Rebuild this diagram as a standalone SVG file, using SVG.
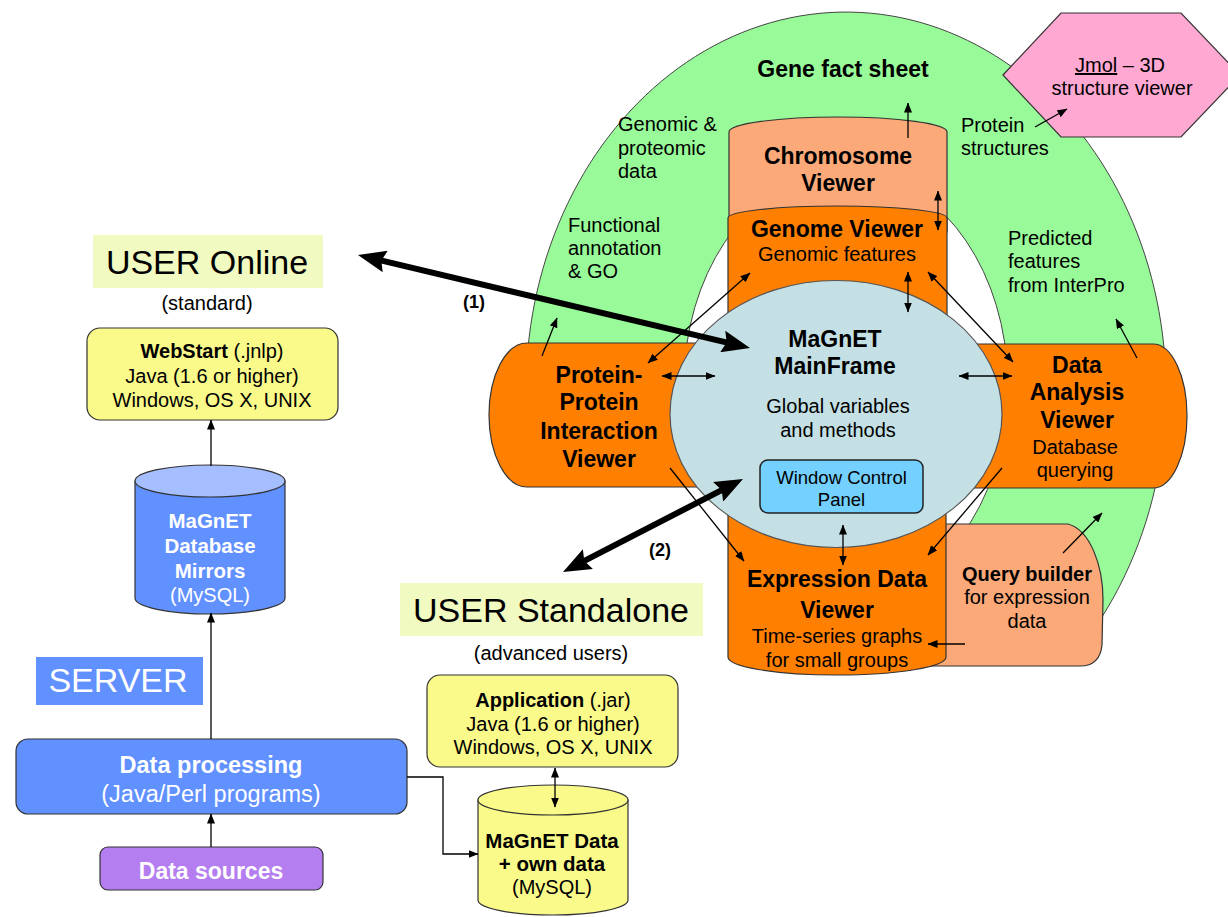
<svg xmlns="http://www.w3.org/2000/svg" width="1228" height="917" viewBox="0 0 1228 917">
<defs>
<marker id="ah" markerUnits="userSpaceOnUse" markerWidth="10" markerHeight="8" viewBox="0 0 10 8" refX="9.5" refY="4" orient="auto-start-reverse"><path d="M0,0 L10,4 L0,8 z" fill="#000"/></marker>
<marker id="bh" markerUnits="userSpaceOnUse" markerWidth="28" markerHeight="22" viewBox="0 0 28 22" refX="10" refY="11" orient="auto-start-reverse"><path d="M0,0 L28,11 L0,22 L4,11 z" fill="#000"/></marker>
</defs>
<style>
text{font-family:"Liberation Sans",Arial,sans-serif;fill:#000}
.b{font-weight:bold;font-size:23px;text-anchor:middle}
.bs{font-weight:bold;font-size:20.5px;text-anchor:middle}
.n{font-size:20px;text-anchor:middle}
.l{font-size:20px}
.w{fill:#fff}
.big{font-size:34px;text-anchor:middle}
.lbl{font-weight:bold;font-size:18px;text-anchor:middle}
.thin{stroke:#000;stroke-width:1.3;fill:none}
.thick{stroke:#000;stroke-width:6;fill:none}
.sh{stroke:#333;stroke-width:1.2}
.lo{fill:#FBA978}
.or{fill:#FF7F00}
.yb{fill:#FAFA8A}
.ub{fill:#F1FAC0}
.bl{fill:#6190FF}
</style>
<rect x="0" y="0" width="1228" height="917" fill="#fff"/>

<g id="gene-fact-sheet">
<path d="M527,420 A320,378 0 1 1 1070,660 L940,560 A162,215 0 1 0 686,420 Z" fill="#98FA98" stroke="#444" stroke-width="1"/>
<text class="b" x="843" y="77">Gene fact sheet</text>
<text class="l" x="618" y="131">Genomic &amp;</text>
<text class="l" x="618" y="155">proteomic</text>
<text class="l" x="618" y="178">data</text>
<text class="l" x="568" y="232">Functional</text>
<text class="l" x="568" y="255">annotation</text>
<text class="l" x="568" y="278">&amp; GO</text>
<text class="l" x="961" y="132">Protein</text>
<text class="l" x="961" y="155">structures</text>
<text class="l" x="1008" y="245">Predicted</text>
<text class="l" x="1008" y="268">features</text>
<text class="l" x="1008" y="292">from InterPro</text>
</g>

<g id="jmol">
<polygon points="1003,75 1061,13 1181,13 1240,75 1181,137 1061,137" fill="#FFA8D2" class="sh"/>
<text class="n" x="1120" y="72"><tspan text-decoration="underline">Jmol</tspan> – 3D</text>
<text class="n" x="1122" y="95">structure viewer</text>
</g>

<g id="chromosome-viewer">
<path d="M729,132 A109,15 0 0 1 947,132 L947,232 L729,232 Z" class="lo sh"/>
<text class="b" x="838" y="164">Chromosome</text>
<text class="b" x="838" y="191">Viewer</text>
</g>

<g id="genome-viewer">
<path d="M728,218 A109.5,12 0 0 1 947,218 L947,380 L728,380 Z" class="or sh"/>
<text class="b" x="837" y="237">Genome Viewer</text>
<text class="n" x="837" y="261">Genomic features</text>
</g>

<g id="ppi-viewer">
<path d="M527,343 L712,343 L712,487 L527,487 A38,72 0 0 1 527,343 Z" class="or sh"/>
<text class="b" x="599" y="383">Protein-</text>
<text class="b" x="599" y="410">Protein</text>
<text class="b" x="599" y="439">Interaction</text>
<text class="b" x="599" y="467">Viewer</text>
</g>

<g id="data-analysis-viewer">
<path d="M965,344 L1153,344 A34,72 0 0 1 1153,488 L965,488 Z" class="or sh"/>
<text class="b" x="1077" y="373">Data</text>
<text class="b" x="1077" y="400">Analysis</text>
<text class="b" x="1077" y="428">Viewer</text>
<text class="n" x="1075" y="454">Database</text>
<text class="n" x="1075" y="477">querying</text>
</g>

<g id="query-builder">
<path d="M930,524 L1068,524 C1090,530 1103,565 1103,600 L1102,645 Q1100,666 1080,666 L930,666 Z" class="lo sh"/>
<text class="bs" x="1027" y="581" style="font-size:20px">Query builder</text>
<text class="n" x="1027" y="604">for expression</text>
<text class="n" x="1027" y="628">data</text>
</g>

<g id="expression-viewer">
<path d="M728,480 L946,480 L946,657 A109,18 0 0 1 728,657 Z" class="or sh"/>
<text class="b" x="837" y="587">Expression Data</text>
<text class="b" x="837" y="618">Viewer</text>
<text class="n" x="837" y="643">Time-series graphs</text>
<text class="n" x="837" y="667">for small groups</text>
</g>

<g id="mainframe">
<ellipse cx="836" cy="414" rx="166" ry="133.5" fill="#C4E0E5" stroke="#555" stroke-width="1.2"/>
<text class="b" x="835" y="347">MaGnET</text>
<text class="b" x="835" y="374">MainFrame</text>
<text class="n" x="838" y="413">Global variables</text>
<text class="n" x="838" y="437">and methods</text>
</g>

<g id="window-control-panel">
<rect x="760" y="460" width="163" height="53" rx="8" fill="#74D0FF" stroke="#222" stroke-width="1.5"/>
<text class="n" x="841.5" y="484" style="font-size:18.5px">Window Control</text>
<text class="n" x="841.5" y="506" style="font-size:18.5px">Panel</text>
</g>

<g id="user-online">
<rect x="93" y="235" width="230" height="53" class="ub"/>
<text class="big" x="207" y="274">USER Online</text>
<text class="n" x="207" y="310">(standard)</text>
</g>

<g id="webstart">
<rect x="87" y="328" width="251" height="92" rx="13" class="yb sh"/>
<text class="n" x="212" y="358"><tspan font-weight="bold">WebStart</tspan> (.jnlp)</text>
<text class="n" x="212" y="383">Java (1.6 or higher)</text>
<text class="n" x="212" y="407">Windows, OS X, UNIX</text>
</g>

<g id="database-mirrors">
<path d="M135,481 L135,598 A75,16 0 0 0 285,598 L285,481 Z" class="bl sh"/>
<ellipse cx="210" cy="481" rx="75" ry="16" fill="#A5BEFF" class="sh"/>
<text class="bs w" x="210" y="528">MaGnET</text>
<text class="bs w" x="210" y="553">Database</text>
<text class="bs w" x="210" y="578">Mirrors</text>
<text class="n w" x="210" y="602">(MySQL)</text>
</g>

<g id="server">
<rect x="36" y="657" width="167" height="48" class="bl"/>
<text class="big w" x="118" y="692">SERVER</text>
</g>

<g id="data-processing">
<rect x="16" y="739" width="391" height="75" rx="12" class="bl sh"/>
<text class="b w" x="211" y="773" style="font-size:23.5px">Data processing</text>
<text class="n w" x="211" y="802" style="font-size:23.5px">(Java/Perl programs)</text>
</g>

<g id="data-sources">
<rect x="100" y="847" width="223" height="43" rx="8" fill="#B47EF0" class="sh"/>
<text class="b w" x="211" y="879">Data sources</text>
</g>

<g id="user-standalone">
<rect x="400" y="583" width="303" height="53" class="ub"/>
<text class="big" x="551" y="622">USER Standalone</text>
<text class="n" x="551" y="660">(advanced users)</text>
</g>

<g id="application">
<rect x="427" y="675" width="251" height="92" rx="13" class="yb sh"/>
<text class="n" x="553" y="707"><tspan font-weight="bold">Application</tspan> (.jar)</text>
<text class="n" x="553" y="731">Java (1.6 or higher)</text>
<text class="n" x="553" y="754">Windows, OS X, UNIX</text>
</g>

<g id="magnet-data">
<path d="M478,800 L478,900 A75,15 0 0 0 628,900 L628,800 Z" class="yb sh"/>
<ellipse cx="553" cy="800" rx="75" ry="15" class="yb sh"/>
<text class="bs" x="552" y="848">MaGnET Data</text>
<text class="bs" x="552" y="871">+ own data</text>
<text class="n" x="552" y="894">(MySQL)</text>
</g>

<g id="connectors">
<line class="thin" x1="908" y1="138" x2="908" y2="103" marker-end="url(#ah)"/>
<line class="thin" x1="938" y1="191" x2="938" y2="230" marker-start="url(#ah)" marker-end="url(#ah)"/>
<line class="thin" x1="1035" y1="127" x2="1067" y2="109" marker-end="url(#ah)"/>
<line class="thin" x1="908" y1="272" x2="908" y2="312" marker-start="url(#ah)" marker-end="url(#ah)"/>
<line class="thin" x1="648" y1="363" x2="750" y2="273" marker-start="url(#ah)" marker-end="url(#ah)"/>
<line class="thin" x1="928" y1="272" x2="1013" y2="362" marker-start="url(#ah)" marker-end="url(#ah)"/>
<line class="thin" x1="662" y1="376" x2="715" y2="376" marker-start="url(#ah)" marker-end="url(#ah)"/>
<line class="thin" x1="959" y1="376" x2="1012" y2="376" marker-start="url(#ah)" marker-end="url(#ah)"/>
<line class="thin" x1="542" y1="356" x2="557" y2="318" marker-end="url(#ah)"/>
<line class="thin" x1="1137" y1="358" x2="1116" y2="319" marker-end="url(#ah)"/>
<line class="thin" x1="670" y1="468" x2="744" y2="561" marker-end="url(#ah)"/>
<line class="thin" x1="1002" y1="468" x2="928" y2="555" marker-end="url(#ah)"/>
<line class="thin" x1="843" y1="525" x2="843" y2="565" marker-start="url(#ah)" marker-end="url(#ah)"/>
<line class="thin" x1="1063" y1="553" x2="1102" y2="513" marker-end="url(#ah)"/>
<line class="thin" x1="965" y1="644" x2="928" y2="644" marker-end="url(#ah)"/>
<line class="thin" x1="211" y1="466" x2="211" y2="420" marker-end="url(#ah)"/>
<line class="thin" x1="211" y1="739" x2="211" y2="613" marker-end="url(#ah)"/>
<line class="thin" x1="211" y1="847" x2="211" y2="814" marker-end="url(#ah)"/>
<polyline class="thin" points="407,777 443,777 443,854 478,854" marker-end="url(#ah)"/>
<line class="thin" x1="555" y1="768" x2="555" y2="807" marker-start="url(#ah)" marker-end="url(#ah)"/>
<line class="thick" x1="375.5" y1="259.2" x2="732.5" y2="343.8" marker-start="url(#bh)" marker-end="url(#bh)"/>
<line class="thick" x1="579" y1="563.7" x2="727" y2="487.3" marker-start="url(#bh)" marker-end="url(#bh)"/>
<text class="lbl" x="474" y="308">(1)</text>
<text class="lbl" x="660" y="556">(2)</text>
</g>
</svg>
